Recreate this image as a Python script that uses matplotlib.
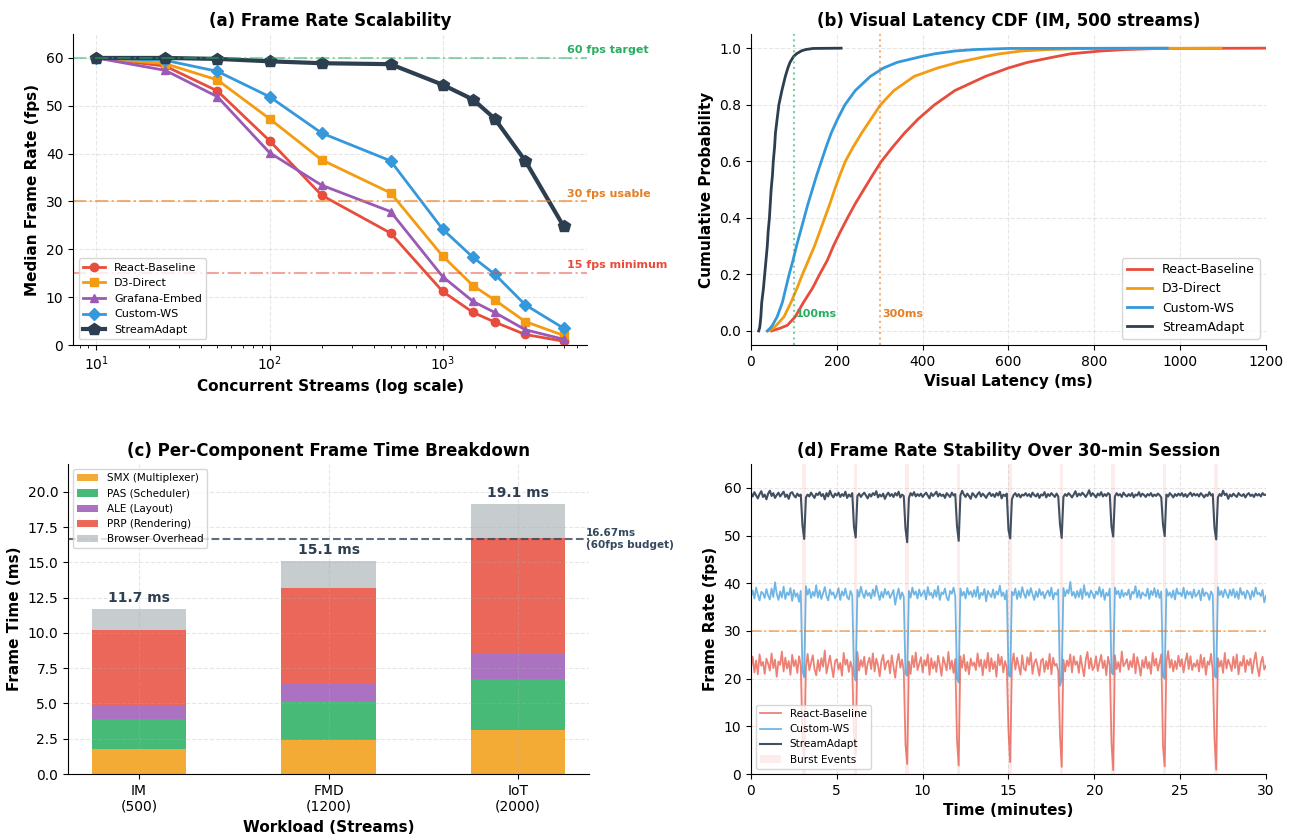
import matplotlib
matplotlib.use("Agg")
import matplotlib.pyplot as plt
from matplotlib.patches import Patch
import numpy as np

# ---------------- data ----------------
# (a) frame rate vs. streams
streams = [10, 25, 50, 100, 200, 500, 1000, 1500, 2000, 3000, 5000]
fps_react = [60.0, 58.3, 53.1, 42.7, 31.3, 23.4, 11.2, 6.8, 4.8, 2.2, 0.8]
fps_d3 = [60.0, 58.8, 55.4, 47.3, 38.7, 31.8, 18.6, 12.4, 9.4, 4.9, 2.0]
fps_grafana = [60.0, 57.4, 51.9, 40.2, 33.4, 27.9, 14.3, 9.1, 6.8, 3.2, 1.2]
fps_custom = [60.0, 59.5, 57.2, 51.9, 44.3, 38.5, 24.2, 18.3, 14.8, 8.4, 3.5]
fps_stream = [60.0, 60.0, 59.8, 59.3, 58.9, 58.7, 54.4, 51.3, 47.3, 38.5, 24.8]

# (b) latency CDF, latency (ms) at given cumulative probability
cdf_prob = [0, 0.01, 0.02, 0.05, 0.1, 0.15, 0.2, 0.25, 0.3, 0.35, 0.4, 0.45, 0.5, 0.55,
            0.6, 0.65, 0.7, 0.75, 0.8, 0.85, 0.9, 0.93, 0.95, 0.97, 0.98, 0.99, 0.995,
            0.999, 1.0]
lat_react = [48, 69, 85, 103, 122, 143, 160, 178, 192, 208, 225, 243, 263, 283,
             304, 330, 358, 390, 428, 475, 546, 600, 645, 710, 745, 815, 870, 950, 1200]
lat_d3 = [40, 52, 59, 77, 93, 107, 120, 134, 148, 160, 172, 184, 195, 207,
          220, 238, 258, 280, 302, 333, 380, 435, 483, 545, 580, 630, 690, 780, 1095]
lat_custom = [38, 45, 50, 61, 73, 81, 89, 98, 106, 115, 124, 133, 143, 153,
              164, 175, 187, 202, 219, 243, 278, 309, 341, 396, 428, 475, 520, 600, 970]
lat_stream = [18, 20, 21, 23, 25, 29, 32, 35, 38, 40, 43, 45, 47, 50,
              52, 55, 57, 61, 65, 72, 80, 86, 91, 99, 106, 117, 127, 145, 210]

# (c) frame time breakdown (ms)
workloads = ["IM\n(500)", "FMD\n(1200)", "IoT\n(2000)"]
t_smx = [1.8, 2.4, 3.1]
t_pas = [2.1, 2.8, 3.6]
t_ale = [0.9, 1.2, 1.8]
t_prp = [5.4, 6.8, 8.2]
t_browser = [1.5, 1.9, 2.4]
budget_ms = 16.67

# (d) 30-minute session, one sample every 0.1 min
session_t = [i / 10 for i in range(301)]
burst_times = [3, 6, 9, 12, 15, 18, 21, 24, 27]
sess_stream = [
    58.9, 58.2, 59.1, 58.4, 57.8, 58.7, 59.3, 58.1, 58.6, 57.6,
    58.8, 59.4, 58.3, 58.9, 57.9, 58.5, 59.0, 58.2, 58.7, 59.2,
    58.1, 58.6, 57.7, 58.9, 59.1, 58.4, 58.0, 58.8, 58.3, 58.6,
    52.1, 49.3, 58.0, 58.6, 58.2, 59.0, 58.4, 57.9, 58.8, 58.5,
    59.1, 58.3, 58.7, 57.6, 58.9, 58.2, 59.4, 58.5, 58.0, 58.8,
    58.4, 59.0, 58.1, 58.7, 58.3, 59.2, 57.9, 58.6, 58.2, 58.9,
    51.8, 49.6, 58.3, 58.8, 58.1, 58.6, 59.0, 58.4, 57.8, 58.7,
    58.2, 58.9, 58.5, 59.3, 58.0, 58.6, 58.2, 58.8, 57.7, 58.5,
    59.0, 58.3, 58.7, 58.1, 58.9, 58.4, 59.2, 58.0, 58.6, 58.3,
    51.5, 48.6, 57.9, 58.9, 58.4, 59.1, 58.2, 58.7, 58.3, 58.8,
    58.1, 58.6, 59.0, 58.4, 57.8, 58.9, 58.3, 58.7, 59.2, 58.2,
    58.8, 58.3, 58.6, 57.9, 58.9, 58.5, 58.1, 59.0, 58.4, 58.7,
    52.0, 48.9, 58.4, 59.4, 58.6, 58.1, 58.8, 58.3, 57.7, 58.9,
    58.5, 58.0, 58.7, 59.1, 58.2, 58.8, 58.4, 57.9, 58.6, 59.0,
    58.3, 58.7, 58.1, 58.9, 58.4, 59.2, 57.8, 58.6, 58.3, 58.8,
    51.2, 49.4, 57.6, 58.5, 58.9, 58.2, 58.7, 58.0, 58.6, 58.4,
    58.9, 58.3, 58.7, 58.1, 59.0, 58.5, 58.2, 58.8, 57.9, 58.6,
    58.4, 59.1, 58.0, 58.7, 58.3, 58.9, 58.5, 58.1, 58.8, 58.2,
    52.4, 49.5, 58.1, 58.7, 58.3, 58.9, 58.5, 58.0, 58.6, 59.3,
    58.2, 58.8, 58.4, 59.0, 58.6, 58.1, 58.7, 59.5, 58.3, 58.9,
    58.5, 58.0, 58.8, 58.4, 59.1, 58.2, 58.7, 58.3, 58.9, 58.6,
    51.9, 49.8, 58.2, 58.9, 58.4, 58.7, 58.1, 59.0, 58.5, 58.2,
    58.7, 58.3, 58.9, 58.0, 58.6, 58.4, 59.1, 58.2, 58.8, 58.5,
    58.1, 58.7, 58.4, 58.9, 58.2, 58.6, 58.3, 58.8, 58.5, 58.0,
    52.3, 49.9, 58.6, 58.2, 58.9, 58.5, 58.0, 58.7, 58.3, 58.8,
    58.4, 58.9, 58.2, 58.7, 58.1, 58.6, 59.0, 58.3, 58.8, 58.4,
    58.7, 58.2, 58.9, 58.5, 58.0, 58.6, 58.3, 59.1, 58.4, 58.7,
    51.6, 49.2, 58.0, 58.7, 58.3, 59.4, 58.5, 58.8, 57.7, 58.6,
    58.2, 58.8, 58.4, 58.1, 58.9, 58.5, 58.3, 58.7, 58.0, 58.6,
    58.9, 58.3, 58.6, 58.1, 58.8, 58.4, 58.7, 58.2, 58.9, 58.5,
    58.6]
sess_custom = [
    37.2, 38.5, 36.8, 39.1, 37.6, 36.4, 38.2, 37.9, 36.9, 38.8,
    37.4, 36.6, 38.9, 37.1, 40.2, 37.8, 36.5, 38.3, 37.0, 39.3,
    36.7, 38.1, 37.5, 39.0, 36.3, 38.6, 37.2, 37.9, 36.1, 38.4,
    21.5, 20.3, 39.4, 37.6, 38.8, 36.9, 38.2, 37.3, 39.6, 37.0,
    38.5, 36.7, 37.9, 39.2, 37.3, 36.4, 38.7, 37.6, 38.1, 36.8,
    37.7, 39.0, 36.5, 38.3, 37.4, 38.9, 37.1, 36.6, 38.4, 37.5,
    20.8, 19.6, 38.6, 37.2, 39.3, 37.8, 36.9, 38.5, 37.4, 38.0,
    36.8, 38.7, 37.3, 39.5, 37.9, 36.5, 38.2, 37.0, 38.8, 37.6,
    38.3, 36.9, 37.7, 38.6, 35.5, 37.4, 38.9, 36.7, 38.1, 37.2,
    21.0, 20.6, 38.4, 37.0, 39.1, 37.6, 38.3, 36.8, 38.7, 37.3,
    37.9, 38.5, 36.6, 39.2, 37.5, 38.0, 36.9, 38.6, 37.2, 39.4,
    36.5, 38.1, 37.7, 38.9, 37.0, 36.4, 38.4, 37.8, 39.1, 37.3,
    20.1, 19.2, 38.9, 37.4, 38.2, 36.8, 39.0, 37.6, 38.3, 37.1,
    38.6, 37.2, 39.3, 36.7, 38.0, 37.5, 38.8, 36.2, 38.4, 37.7,
    37.1, 38.7, 36.9, 38.3, 37.6, 39.5, 37.3, 38.1, 36.6, 38.5,
    20.7, 20.4, 38.2, 37.5, 38.9, 36.7, 38.4, 37.0, 39.2, 37.8,
    36.9, 38.6, 37.4, 39.0, 37.7, 36.5, 38.3, 37.1, 38.8, 37.5,
    38.2, 36.8, 37.9, 38.5, 37.3, 39.1, 36.6, 38.0, 37.6, 38.7,
    18.5, 19.8, 39.0, 37.3, 38.6, 37.8, 40.3, 37.4, 38.2, 36.9,
    38.4, 37.1, 38.8, 36.7, 39.6, 37.5, 38.1, 37.0, 38.5, 37.8,
    36.8, 38.3, 37.6, 39.2, 37.2, 38.7, 36.5, 38.0, 37.4, 38.9,
    21.3, 20.9, 39.1, 37.7, 38.4, 36.9, 38.6, 37.2, 38.0, 37.5,
    38.7, 36.6, 38.2, 37.8, 39.4, 37.0, 38.5, 36.8, 38.1, 37.6,
    37.3, 38.9, 36.7, 38.4, 37.5, 39.0, 37.1, 38.6, 36.9, 38.3,
    20.5, 20.0, 38.8, 37.4, 38.1, 37.0, 38.5, 36.6, 38.9, 37.7,
    38.0, 37.3, 39.1, 36.8, 38.4, 37.6, 38.2, 36.9, 38.7, 37.2,
    37.7, 38.5, 36.4, 38.9, 37.3, 38.1, 37.8, 36.5, 38.3, 37.6,
    20.6, 20.2, 39.2, 37.5, 38.4, 37.1, 38.7, 37.8, 36.9, 38.6,
    37.4, 38.8, 37.0, 38.3, 36.7, 39.0, 37.6, 38.2, 36.8, 38.5,
    37.9, 36.6, 38.4, 37.2, 39.1, 37.7, 38.0, 37.3, 38.6, 36.0,
    37.4]
sess_react = [
    22.4, 24.6, 21.3, 23.8, 20.9, 25.1, 22.7, 23.5, 21.0, 24.2,
    23.1, 21.7, 25.3, 22.2, 24.0, 20.4, 23.6, 22.9, 25.7, 21.5,
    24.4, 22.1, 23.7, 20.8, 25.0, 22.6, 23.9, 21.2, 24.7, 22.8,
    7.5, 3.2, 22.3, 25.2, 21.8, 23.4, 24.9, 22.0, 20.7, 23.9,
    21.6, 24.3, 22.5, 25.9, 21.1, 23.0, 24.8, 22.4, 20.3, 23.7,
    24.1, 21.9, 23.3, 20.6, 25.4, 22.9, 24.0, 21.4, 23.6, 22.2,
    8.4, 4.1, 25.6, 21.7, 23.9, 22.5, 24.6, 20.9, 23.2, 24.4,
    22.0, 25.3, 21.5, 24.2, 22.8, 20.5, 23.7, 25.0, 21.9, 23.4,
    23.8, 21.1, 24.9, 22.6, 20.2, 23.5, 25.2, 22.3, 24.0, 21.6,
    6.2, 2.1, 23.6, 21.0, 24.8, 22.4, 25.5, 21.8, 23.1, 24.5,
    21.3, 23.9, 22.7, 25.1, 20.8, 24.3, 22.1, 23.6, 21.4, 24.8,
    22.9, 20.6, 24.5, 23.2, 21.7, 25.6, 22.0, 23.8, 21.2, 24.1,
    7.1, 1.8, 24.7, 22.3, 25.0, 21.6, 23.5, 20.9, 24.2, 22.7,
    23.4, 21.8, 25.3, 22.5, 24.0, 20.7, 23.9, 22.2, 25.4, 21.5,
    24.3, 22.0, 23.6, 20.4, 25.1, 22.8, 24.6, 21.3, 23.7, 22.4,
    9.0, 2.5, 23.0, 25.3, 21.9, 24.4, 22.6, 20.8, 24.9, 22.1,
    21.7, 24.5, 22.9, 25.5, 21.0, 23.3, 24.1, 22.5, 20.6, 23.8,
    24.2, 21.4, 23.7, 22.0, 25.2, 20.9, 24.4, 22.7, 23.1, 21.6,
    8.1, 1.5, 24.0, 21.5, 23.8, 22.6, 25.1, 21.3, 24.7, 22.9,
    23.6, 21.2, 24.8, 22.4, 20.5, 23.9, 25.6, 22.1, 24.3, 21.8,
    22.5, 24.7, 21.6, 23.4, 25.0, 22.2, 23.8, 20.7, 24.6, 22.8,
    6.5, 0.8, 24.9, 22.0, 23.5, 21.4, 25.7, 22.6, 23.2, 24.1,
    21.9, 23.7, 22.4, 25.2, 21.1, 24.5, 22.8, 20.6, 23.9, 22.3,
    24.6, 22.1, 23.5, 21.0, 25.4, 22.7, 24.2, 21.7, 23.3, 25.1,
    5.8, 1.6, 23.4, 25.8, 22.3, 24.0, 21.5, 23.7, 22.0, 24.8,
    22.6, 24.1, 21.3, 23.6, 25.3, 22.0, 24.7, 21.8, 23.2, 22.5,
    23.9, 21.5, 25.0, 22.3, 24.4, 20.8, 23.6, 22.9, 25.2, 21.7,
    7.4, 0.9, 24.3, 22.5, 23.8, 21.2, 25.4, 22.1, 24.0, 23.0,
    21.6, 24.6, 22.2, 25.1, 20.9, 23.5, 22.7, 24.8, 21.4, 23.9,
    22.8, 24.2, 21.1, 23.7, 25.5, 22.4, 20.5, 23.3, 24.6, 21.9,
    22.7]

# colours
C_REACT = "#e74c3c"
C_D3 = "#f39c12"
C_GRAF = "#9b59b6"
C_CUSTOM = "#3498db"
C_STREAM = "#2c3e50"
C_GREEN = "#27ae60"
C_ORANGE = "#e67e22"

plt.rcParams["font.family"] = "DejaVu Sans"

fig = plt.figure(figsize=(12.93, 8.34), dpi=100)
ax_a = fig.add_axes([0.0565, 0.5863, 0.3975, 0.3729])
ax_b = fig.add_axes([0.5808, 0.5863, 0.3983, 0.3729])
ax_c = fig.add_axes([0.0526, 0.0719, 0.4030, 0.3717])
ax_d = fig.add_axes([0.5808, 0.0719, 0.3983, 0.3717])

for ax in (ax_a, ax_b, ax_c, ax_d):
    ax.spines["top"].set_visible(False)
    ax.spines["right"].set_visible(False)
    ax.grid(True, linestyle="--", alpha=0.3)
    ax.tick_params(labelsize=10)

# ---- (a)
ax_a.plot(streams, fps_react, "-o", color=C_REACT, lw=2, ms=6, label="React-Baseline")
ax_a.plot(streams, fps_d3, "-s", color=C_D3, lw=2, ms=6, label="D3-Direct")
ax_a.plot(streams, fps_grafana, "-^", color=C_GRAF, lw=2, ms=6, label="Grafana-Embed")
ax_a.plot(streams, fps_custom, "-D", color=C_CUSTOM, lw=2, ms=6, label="Custom-WS")
ax_a.plot(streams, fps_stream, "-p", color=C_STREAM, lw=3, ms=9, label="StreamAdapt")
ax_a.set_xscale("log")
ax_a.axhline(60, color=C_GREEN, ls="-.", lw=1.5, alpha=0.5)
ax_a.axhline(30, color=C_ORANGE, ls="-.", lw=1.5, alpha=0.6)
ax_a.axhline(15, color=C_REACT, ls="-.", lw=1.5, alpha=0.5)
ax_a.text(5200, 60.6, "60 fps target", color=C_GREEN, fontsize=8, fontweight="bold", va="bottom")
ax_a.text(5200, 30.6, "30 fps usable", color=C_ORANGE, fontsize=8, fontweight="bold", va="bottom")
ax_a.text(5200, 15.6, "15 fps minimum", color=C_REACT, fontsize=8, fontweight="bold", va="bottom")
ax_a.set_ylim(0, 65)
ax_a.set_xlabel("Concurrent Streams (log scale)", fontsize=11, fontweight="bold")
ax_a.set_ylabel("Median Frame Rate (fps)", fontsize=11, fontweight="bold")
ax_a.set_title("(a) Frame Rate Scalability", fontsize=12, fontweight="bold")
ax_a.legend(loc="lower left", fontsize=8)

# ---- (b)
ax_b.plot(lat_react, cdf_prob, color=C_REACT, lw=2, label="React-Baseline")
ax_b.plot(lat_d3, cdf_prob, color=C_D3, lw=2, label="D3-Direct")
ax_b.plot(lat_custom, cdf_prob, color=C_CUSTOM, lw=2, label="Custom-WS")
ax_b.plot(lat_stream, cdf_prob, color=C_STREAM, lw=2, label="StreamAdapt")
ax_b.axvline(100, color=C_GREEN, ls=":", lw=1.5, alpha=0.6)
ax_b.axvline(300, color=C_ORANGE, ls=":", lw=1.5, alpha=0.6)
ax_b.text(105, 0.05, "100ms", color=C_GREEN, fontsize=8, fontweight="bold")
ax_b.text(305, 0.05, "300ms", color=C_ORANGE, fontsize=8, fontweight="bold")
ax_b.set_xlim(0, 1200)
ax_b.set_ylim(-0.05, 1.05)
ax_b.set_xlabel("Visual Latency (ms)", fontsize=11, fontweight="bold")
ax_b.set_ylabel("Cumulative Probability", fontsize=11, fontweight="bold")
ax_b.set_title("(b) Visual Latency CDF (IM, 500 streams)", fontsize=12, fontweight="bold")
ax_b.legend(loc="lower right", fontsize=9)

# ---- (c)
xpos = np.arange(len(workloads))
bottom = np.zeros(len(workloads))
parts = [(t_smx, "#f39c12", "SMX (Multiplexer)"),
         (t_pas, "#27ae60", "PAS (Scheduler)"),
         (t_ale, "#9b59b6", "ALE (Layout)"),
         (t_prp, "#e74c3c", "PRP (Rendering)"),
         (t_browser, "#bdc3c7", "Browser Overhead")]
for vals, col, lab in parts:
    ax_c.bar(xpos, vals, 0.5, bottom=bottom, color=col, alpha=0.85, label=lab)
    bottom = bottom + np.array(vals)
for i, tot in enumerate(bottom):
    ax_c.text(xpos[i], tot + 0.3, f"{tot:.1f} ms", ha="center", va="bottom",
              fontsize=10, fontweight="bold", color=C_STREAM)
ax_c.axhline(budget_ms, color="#34495e", ls="--", lw=1.5, alpha=0.8)
ax_c.text(2.36, budget_ms, f"{budget_ms}ms\n(60fps budget)", fontsize=7.5,
          fontweight="bold", color="#34495e", va="center")
ax_c.set_xticks(xpos)
ax_c.set_xticklabels(workloads)
ax_c.set_ylim(0, bottom.max() * 1.15)
ax_c.set_yticks(np.arange(0, 20.1, 2.5))
ax_c.set_xlabel("Workload (Streams)", fontsize=11, fontweight="bold")
ax_c.set_ylabel("Frame Time (ms)", fontsize=11, fontweight="bold")
ax_c.set_title("(c) Per-Component Frame Time Breakdown", fontsize=12, fontweight="bold")
ax_c.legend(loc="upper left", fontsize=7.5)

# ---- (d)
for bt in burst_times:
    ax_d.axvspan(bt, bt + 0.2, color=C_REACT, alpha=0.1, lw=0)
ax_d.plot(session_t, sess_react, color=C_REACT, lw=1.3, alpha=0.7, label="React-Baseline")
ax_d.plot(session_t, sess_custom, color=C_CUSTOM, lw=1.3, alpha=0.7, label="Custom-WS")
ax_d.plot(session_t, sess_stream, color=C_STREAM, lw=1.5, alpha=0.9, label="StreamAdapt")
ax_d.axhline(30, color=C_ORANGE, ls="-.", lw=1.2, alpha=0.6)
ax_d.set_xlim(0, 30)
ax_d.set_ylim(0, 65)
ax_d.set_xlabel("Time (minutes)", fontsize=11, fontweight="bold")
ax_d.set_ylabel("Frame Rate (fps)", fontsize=11, fontweight="bold")
ax_d.set_title("(d) Frame Rate Stability Over 30-min Session", fontsize=12, fontweight="bold")
h, l = ax_d.get_legend_handles_labels()
h.append(Patch(facecolor=C_REACT, alpha=0.1))
l.append("Burst Events")
ax_d.legend(h, l, loc="lower left", fontsize=7.5)

fig.savefig("out.png", dpi=100)
